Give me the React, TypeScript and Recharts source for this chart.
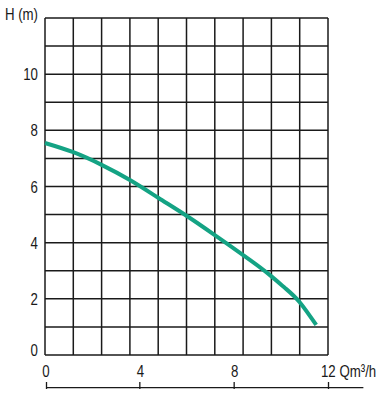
import React from 'react';
import { ComposedChart, Line, XAxis, YAxis, CartesianGrid, ReferenceLine } from 'recharts';

const flow = [0, 1.2, 2.4, 3.6, 4.8, 6.0, 7.2, 8.7, 9.5, 10.2, 10.8, 11.5];
const head = [7.55, 7.22, 6.77, 6.23, 5.6, 4.96, 4.27, 3.38, 2.87, 2.37, 1.88, 1.07];
const xTicks = [0, 4, 8, 12];
const yTicks = [0, 2, 4, 6, 8, 10, 12];
const gridX = [0, 1.2, 2.4, 3.6, 4.8, 6, 7.2, 8.4, 9.6, 10.8, 12];
const gridY = [0, 1, 2, 3, 4, 5, 6, 7, 8, 9, 10, 11, 12];
const xUnit = 'Qm³/h';
const yTitle = 'H (m)';

const data = flow.map((q, i) => ({ q, h: head[i] }));

const FONT = '"Liberation Sans", Arial, sans-serif';
const INK = '#1a1a1a';
const SQUEEZE = 0.78;

const Label = ({ x, y, anchor, children }: any) => (
  <g transform={`translate(${x},${y}) scale(${SQUEEZE},1)`}>
    <text x={0} y={0} textAnchor={anchor} fontFamily={FONT} fontSize={17} fill={INK}>
      {children}
    </text>
  </g>
);

const XTick = (props: any) => {
  const { x, y, payload } = props;
  const v = payload.value;
  const isLast = v === 12;
  const lx = x + (v === 0 ? 1.5 : 0.5);
  return (
    <g>
      <Label x={isLast ? x - 7 : x + 1} y={y + 20} anchor={isLast ? 'start' : 'middle'}>
        {isLast ? `12 ${xUnit}` : v}
      </Label>
      <line x1={lx} x2={lx} y1={y + 25} y2={y + 32} stroke={INK} strokeWidth={1.3} />
    </g>
  );
};

const YTick = (props: any) => {
  const { x, y, payload } = props;
  const v = payload.value;
  let dy = 6;
  let label: any = v;
  if (v === 0) dy = 1;
  if (v === 12) {
    label = yTitle;
    dy = 1.5;
  }
  return (
    <Label x={x} y={y + dy} anchor="end">
      {label}
    </Label>
  );
};

export default function App() {
  return (
    <div style={{ position: 'absolute', left: 0, top: 0, background: '#fff' }}>
      <ComposedChart
        width={387}
        height={396}
        data={data}
        margin={{ top: 18, right: 59, left: 0, bottom: 0 }}
      >
        <CartesianGrid
          stroke={INK}
          strokeWidth={1.5}
          verticalValues={gridX}
          horizontalValues={gridY}
        />
        <XAxis
          dataKey="q"
          type="number"
          domain={[0, 12]}
          ticks={xTicks}
          height={41}
          axisLine={false}
          tickLine={false}
          tickSize={0}
          tick={<XTick />}
          interval={0}
        />
        <YAxis
          type="number"
          domain={[0, 12]}
          ticks={yTicks}
          width={45}
          axisLine={false}
          tickLine={false}
          tickSize={0}
          tickMargin={7}
          tick={<YTick />}
          interval={0}
        />
        <ReferenceLine
          segment={[{ x: 0.07, y: -1.16 }, { x: 13.5, y: -1.16 }]}
          stroke={INK}
          strokeWidth={1.3}
          ifOverflow="visible"
        />
        <Line
          dataKey="h"
          type="natural"
          stroke="#14a384"
          strokeWidth={4}
          dot={false}
          isAnimationActive={false}
        />
      </ComposedChart>
    </div>
  );
}
